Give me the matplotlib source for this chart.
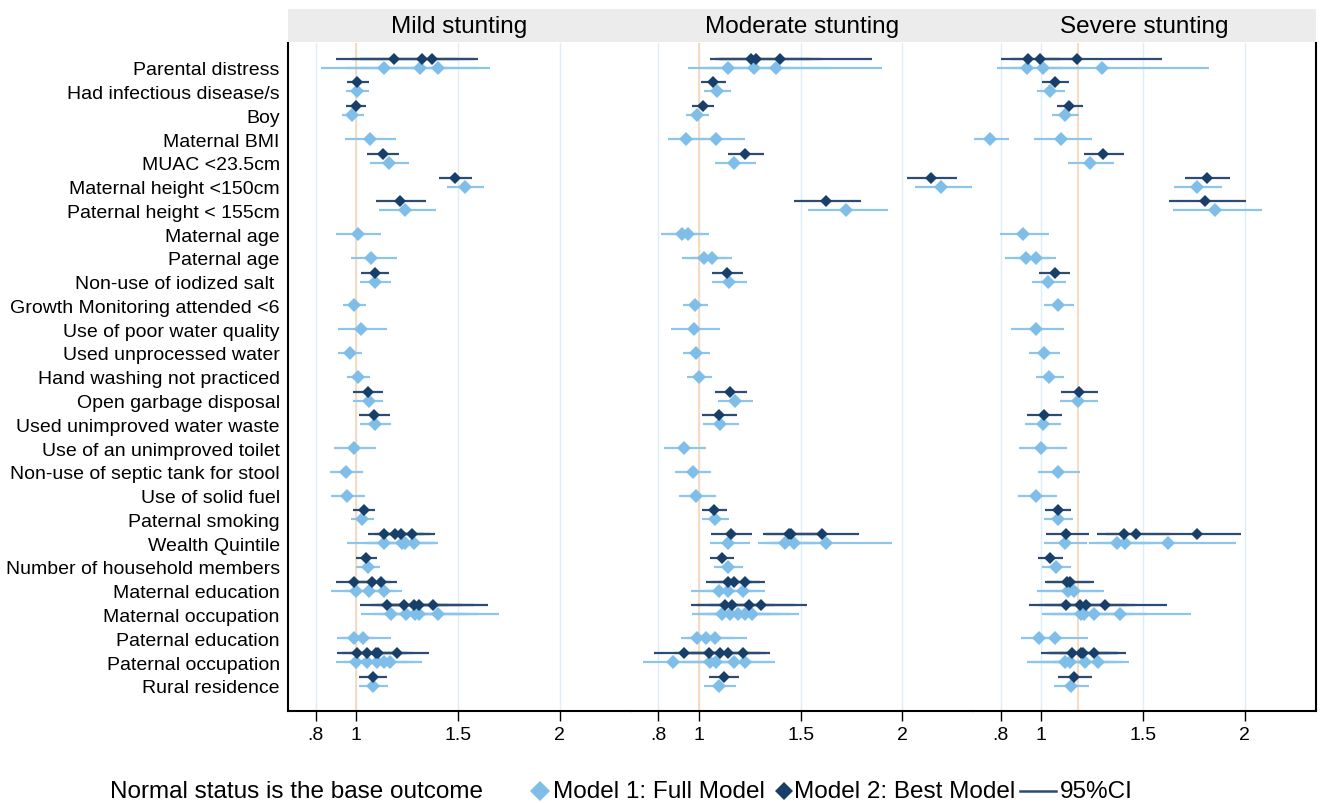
import matplotlib
matplotlib.use("Agg")
import matplotlib.pyplot as plt
from matplotlib.lines import Line2D
from matplotlib.patches import Rectangle

plt.rcParams['font.family'] = ['Liberation Sans', 'DejaVu Sans']

labels = ["Parental distress", "Had infectious disease/s", "Boy", "Maternal BMI",
          "MUAC <23.5cm", "Maternal height <150cm", "Paternal height < 155cm",
          "Maternal age", "Paternal age", "Non-use of iodized salt ",
          "Growth Monitoring attended <6", "Use of poor water quality",
          "Used unprocessed water", "Hand washing not practiced",
          "Open garbage disposal", "Used unimproved water waste",
          "Use of an unimproved toilet", "Non-use of septic tank for stool",
          "Use of solid fuel", "Paternal smoking", "Wealth Quintile",
          "Number of household members", "Maternal education",
          "Maternal occupation", "Paternal education", "Paternal occupation",
          "Rural residence"]

panel_titles = ["Mild stunting", "Moderate stunting", "Severe stunting"]
ref_lines = [1, 1, 1.18]
xticks = [0.8, 1, 1.5, 2]
xticklabels = [".8", "1", "1.5", "2"]

# (row index, odds ratio, lower 95% CI, upper 95% CI)
mild_full = [
    (0, 1.134, 0.826, 1.45), (0, 1.313, 0.95, 1.60), (0, 1.403, 1.02, 1.658),
    (1, 1.003, 0.948, 1.062), (2, 0.980, 0.931, 1.038), (3, 1.067, 0.946, 1.193),
    (4, 1.159, 1.069, 1.257), (5, 1.534, 1.447, 1.626), (6, 1.241, 1.110, 1.393),
    (7, 1.007, 0.898, 1.123), (8, 1.074, 0.975, 1.198), (9, 1.093, 1.020, 1.172),
    (10, 0.990, 0.934, 1.048), (11, 1.023, 0.912, 1.149), (12, 0.967, 0.910, 1.028),
    (13, 1.010, 0.956, 1.069), (14, 1.060, 0.984, 1.133), (15, 1.092, 1.016, 1.172),
    (16, 0.987, 0.889, 1.095), (17, 0.948, 0.872, 1.031), (18, 0.956, 0.877, 1.041),
    (19, 1.026, 0.972, 1.085),
    (20, 1.134, 0.956, 1.30), (20, 1.225, 1.04, 1.38), (20, 1.240, 1.06, 1.39), (20, 1.282, 1.10, 1.40),
    (21, 1.057, 1.000, 1.118),
    (22, 0.997, 0.876, 1.13), (22, 1.064, 0.94, 1.19), (22, 1.134, 1.00, 1.223),
    (23, 1.172, 1.025, 1.40), (23, 1.244, 1.08, 1.50), (23, 1.290, 1.12, 1.55),
    (23, 1.308, 1.14, 1.60), (23, 1.403, 1.16, 1.699),
    (24, 0.990, 0.903, 1.09), (24, 1.031, 0.93, 1.169),
    (25, 1.000, 0.900, 1.12), (25, 1.052, 0.94, 1.18), (25, 1.103, 0.98, 1.25),
    (25, 1.136, 1.00, 1.29), (25, 1.164, 1.02, 1.321),
    (26, 1.082, 1.011, 1.154),
]
mild_best = [
    (0, 1.185, 0.898, 1.50), (0, 1.324, 0.98, 1.58), (0, 1.372, 1.02, 1.600),
    (1, 1.005, 0.954, 1.061), (2, 0.997, 0.949, 1.046), (4, 1.129, 1.054, 1.208),
    (5, 1.486, 1.406, 1.567), (6, 1.216, 1.097, 1.344), (9, 1.090, 1.021, 1.160),
    (14, 1.059, 0.985, 1.129), (15, 1.085, 1.011, 1.163), (19, 1.039, 0.985, 1.093),
    (20, 1.138, 1.059, 1.28), (20, 1.192, 1.09, 1.33), (20, 1.221, 1.11, 1.36), (20, 1.275, 1.14, 1.385),
    (21, 1.049, 1.000, 1.102),
    (22, 0.990, 0.900, 1.09), (22, 1.079, 0.96, 1.17), (22, 1.120, 1.00, 1.198),
    (23, 1.151, 1.020, 1.35), (23, 1.236, 1.07, 1.45), (23, 1.283, 1.10, 1.52),
    (23, 1.310, 1.12, 1.58), (23, 1.378, 1.15, 1.647),
    (25, 1.005, 0.905, 1.13), (25, 1.051, 0.93, 1.19), (25, 1.098, 0.97, 1.25),
    (25, 1.106, 0.98, 1.28), (25, 1.200, 1.03, 1.355),
    (26, 1.082, 1.015, 1.149),
]
moderate_full = [
    (0, 1.144, 0.949, 1.45), (0, 1.272, 1.00, 1.65), (0, 1.380, 1.05, 1.899),
    (1, 1.087, 1.023, 1.157), (2, 0.993, 0.939, 1.051),
    (3, 0.939, 0.849, 1.04), (3, 1.082, 0.96, 1.228),
    (4, 1.175, 1.077, 1.283), (5, 2.192, 2.06, 2.34), (6, 1.721, 1.536, 1.927),
    (7, 0.915, 0.812, 1.02), (7, 0.948, 0.85, 1.048),
    (8, 1.026, 0.915, 1.14), (8, 1.066, 0.96, 1.165),
    (9, 1.147, 1.064, 1.236), (10, 0.980, 0.920, 1.043), (11, 0.977, 0.864, 1.106),
    (12, 0.985, 0.920, 1.056), (13, 1.000, 0.941, 1.066), (14, 1.177, 1.095, 1.264),
    (15, 1.105, 1.018, 1.197), (16, 0.928, 0.830, 1.036), (17, 0.969, 0.885, 1.061),
    (18, 0.987, 0.902, 1.082), (19, 1.079, 1.016, 1.147),
    (20, 1.144, 1.054, 1.251), (20, 1.423, 1.292, 1.57), (20, 1.468, 1.33, 1.63), (20, 1.627, 1.36, 1.947),
    (21, 1.143, 1.075, 1.216),
    (22, 1.098, 0.959, 1.25), (22, 1.144, 1.00, 1.30), (22, 1.218, 1.05, 1.326),
    (23, 1.115, 0.966, 1.30), (23, 1.152, 0.99, 1.35), (23, 1.193, 1.02, 1.40),
    (23, 1.229, 1.05, 1.45), (23, 1.262, 1.07, 1.491),
    (24, 0.990, 0.912, 1.10), (24, 1.034, 0.94, 1.17), (24, 1.079, 0.97, 1.236),
    (25, 0.874, 0.726, 1.05), (25, 1.054, 0.90, 1.23), (25, 1.082, 0.92, 1.26),
    (25, 1.174, 0.99, 1.35), (25, 1.229, 1.03, 1.375),
    (26, 1.098, 1.025, 1.180),
]
moderate_best = [
    (0, 1.256, 1.057, 1.55), (0, 1.283, 1.08, 1.60), (0, 1.400, 1.10, 1.853),
    (1, 1.069, 1.008, 1.131), (2, 1.020, 0.966, 1.074), (4, 1.226, 1.144, 1.321),
    (5, 2.140, 2.024, 2.266), (6, 1.624, 1.468, 1.796), (9, 1.138, 1.064, 1.218),
    (14, 1.154, 1.077, 1.238), (15, 1.098, 1.013, 1.188), (19, 1.074, 1.013, 1.136),
    (20, 1.157, 1.062, 1.259), (20, 1.444, 1.316, 1.59), (20, 1.455, 1.33, 1.60), (20, 1.603, 1.44, 1.786),
    (21, 1.115, 1.056, 1.174),
    (22, 1.141, 1.033, 1.26), (22, 1.174, 1.06, 1.30), (22, 1.229, 1.10, 1.326),
    (23, 1.128, 0.959, 1.33), (23, 1.165, 0.99, 1.37), (23, 1.244, 1.05, 1.47), (23, 1.306, 1.10, 1.531),
    (25, 0.926, 0.781, 1.10), (25, 1.051, 0.88, 1.25), (25, 1.105, 0.93, 1.30),
    (25, 1.144, 0.96, 1.33), (25, 1.219, 1.03, 1.351),
    (26, 1.121, 1.048, 1.197),
]
severe_full = [
    (0, 0.928, 0.781, 1.10), (0, 1.008, 0.84, 1.21), (0, 1.298, 1.00, 1.824),
    (1, 1.043, 0.977, 1.116), (2, 1.116, 1.051, 1.187),
    (3, 0.749, 0.667, 0.843), (3, 1.097, 0.962, 1.251),
    (4, 1.239, 1.131, 1.359), (5, 1.767, 1.652, 1.889), (6, 1.853, 1.645, 2.086),
    (7, 0.910, 0.799, 1.036), (8, 0.926, 0.820, 1.04), (8, 0.974, 0.87, 1.074),
    (9, 1.034, 0.953, 1.123), (10, 1.084, 1.011, 1.159), (11, 0.972, 0.849, 1.110),
    (12, 1.013, 0.939, 1.090), (13, 1.038, 0.972, 1.110), (14, 1.182, 1.093, 1.280),
    (15, 1.007, 0.921, 1.098), (16, 1.000, 0.890, 1.124), (17, 1.084, 0.982, 1.192),
    (18, 0.975, 0.884, 1.075), (19, 1.084, 1.013, 1.157),
    (20, 1.115, 1.015, 1.224), (20, 1.372, 1.234, 1.53), (20, 1.411, 1.27, 1.58), (20, 1.621, 1.34, 1.958),
    (21, 1.072, 1.003, 1.146),
    (22, 1.129, 0.979, 1.29), (22, 1.159, 1.01, 1.308),
    (23, 1.193, 1.003, 1.42), (23, 1.208, 1.02, 1.45), (23, 1.257, 1.05, 1.52), (23, 1.387, 1.12, 1.737),
    (24, 0.990, 0.898, 1.10), (24, 1.066, 0.95, 1.231),
    (25, 1.116, 0.931, 1.33), (25, 1.141, 0.95, 1.36), (25, 1.213, 1.01, 1.40), (25, 1.277, 1.06, 1.429),
    (26, 1.144, 1.062, 1.236),
]
severe_best = [
    (0, 0.933, 0.800, 1.09), (0, 0.992, 0.85, 1.17), (0, 1.174, 0.98, 1.593),
    (1, 1.067, 1.003, 1.134), (2, 1.136, 1.075, 1.203), (4, 1.303, 1.208, 1.406),
    (5, 1.814, 1.708, 1.929), (6, 1.806, 1.627, 2.004), (9, 1.066, 0.989, 1.143),
    (14, 1.187, 1.098, 1.277), (15, 1.011, 0.928, 1.100), (19, 1.080, 1.016, 1.146),
    (20, 1.123, 1.023, 1.233), (20, 1.405, 1.274, 1.55), (20, 1.465, 1.32, 1.63), (20, 1.767, 1.55, 1.983),
    (21, 1.044, 0.985, 1.108),
    (22, 1.128, 1.018, 1.24), (22, 1.139, 1.03, 1.259),
    (23, 1.123, 0.941, 1.34), (23, 1.188, 0.99, 1.42), (23, 1.221, 1.02, 1.46), (23, 1.311, 1.08, 1.618),
    (25, 1.151, 0.998, 1.33), (25, 1.193, 1.03, 1.37), (25, 1.205, 1.04, 1.38), (25, 1.260, 1.09, 1.414),
    (26, 1.161, 1.082, 1.247),
]

panels = [(mild_full, mild_best), (moderate_full, moderate_best), (severe_full, severe_best)]

light = '#7fbee8'
light_ci = '#8cc6ec'
dark = '#173f69'
dark_ci = '#2d4c72'
grid_col = '#deeef9'
ref_col = '#f8d6b4'

W, H = 1321, 804
fig = plt.figure(figsize=(W / 100, H / 100), dpi=100)

left_px, right_px, top_px, bot_px = 288, 1315.5, 44, 712
pw = (right_px - left_px) / 3

# grey header band with panel titles
fig.patches.append(Rectangle((left_px / W, 1 - 43 / H), (right_px - left_px) / W, 33 / H,
                             transform=fig.transFigure, facecolor='#ececec', edgecolor='none'))

offset = 0.38
for k, (full, best) in enumerate(panels):
    ax = fig.add_axes([(left_px + k * pw) / W, 1 - bot_px / H, pw / W, (bot_px - top_px) / H])
    ax.set_xlim(0.664, 2.347)
    ax.set_ylim(27.06, -1.04)
    for g in xticks:
        ax.axvline(g, color=grid_col, lw=1, zorder=0)
    ax.axvline(ref_lines[k], color=ref_col, lw=1.2, zorder=1)

    for row, est, lo, hi in full:
        ax.plot([lo, hi], [row, row], color=light_ci, lw=1.6, zorder=2, solid_capstyle='butt')
    for row, est, lo, hi in best:
        ax.plot([lo, hi], [row - offset, row - offset], color=dark_ci, lw=1.6, zorder=2,
                solid_capstyle='butt')
    ax.plot([d[1] for d in full], [d[0] for d in full], 'D', color=light, ms=7.4,
            mew=0, zorder=3, linestyle='none')
    ax.plot([d[1] for d in best], [d[0] - offset for d in best], 'D', color=dark, ms=6.6,
            mew=0, zorder=4, linestyle='none')

    for s in ['top', 'right', 'left']:
        ax.spines[s].set_visible(False)
    ax.spines['bottom'].set_linewidth(1.5)
    ax.set_xticks(xticks)
    ax.set_xticklabels(xticklabels, fontsize=14)
    ax.tick_params(axis='x', length=7, width=1, pad=4)
    if k == 0:
        ax.spines['left'].set_visible(True)
        ax.spines['left'].set_linewidth(1.5)
        ax.set_yticks(range(len(labels)))
        ax.set_yticklabels(labels, fontsize=14)
        ax.tick_params(axis='y', length=0, pad=6)
    else:
        ax.set_yticks([])
    if k == 2:
        ax.spines['right'].set_visible(True)
        ax.spines['right'].set_linewidth(1.5)
    fig.text((left_px + (k + 0.5) * pw) / W, 1 - 27 / H, panel_titles[k],
             ha='center', va='center', fontsize=17.5)

# legend row, laid out by hand
ly = 1 - 792 / H
fig.text(110 / W, ly, "Normal status is the base outcome", ha='left', va='center', fontsize=17.5)
fig.add_artist(Line2D([540 / W], [ly], marker='D', color=light, ms=10, mew=0,
                      transform=fig.transFigure))
fig.text(553 / W, ly, "Model 1: Full Model", ha='left', va='center', fontsize=17.5)
fig.add_artist(Line2D([784 / W], [ly], marker='D', color=dark, ms=9, mew=0,
                      transform=fig.transFigure))
fig.text(794 / W, ly, "Model 2: Best Model", ha='left', va='center', fontsize=17.5)
fig.add_artist(Line2D([1020 / W, 1056 / W], [ly, ly], color=dark_ci, lw=1.8,
                      transform=fig.transFigure))
fig.text(1060 / W, ly, "95%CI", ha='left', va='center', fontsize=17.5)

fig.savefig('out.png', dpi=100)
